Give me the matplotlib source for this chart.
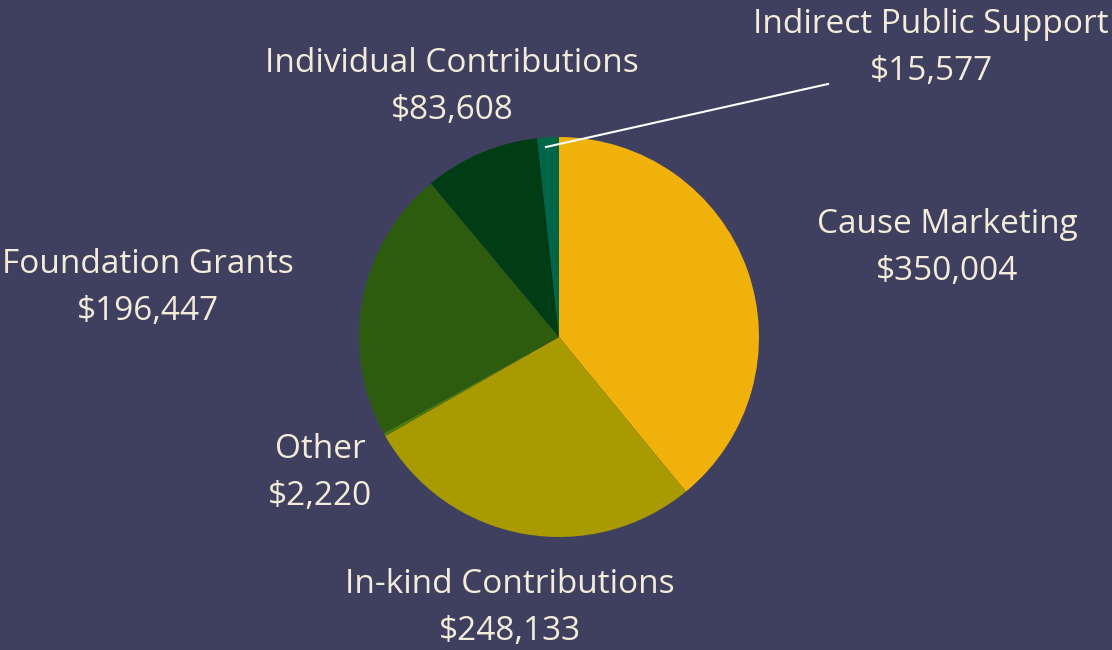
import matplotlib
matplotlib.use("Agg")
import matplotlib.pyplot as plt

categories = ["Cause Marketing", "In-kind Contributions", "Other",
              "Foundation Grants", "Individual Contributions", "Indirect Public Support"]
values = [350004, 248133, 2220, 196447, 83608, 15577]
colors = ["#F0B20A", "#A89A00", "#4A7D0A", "#2E5C0F", "#003D14", "#00664A"]

# label centres in pixel coords (x, y from top)
label_pos = [(947, 248), (510, 608), (320, 473), (148, 288), (452, 87), (931, 48)]

bg = "#3F4060"
txt = "#F4ECDA"

fig = plt.figure(figsize=(11.12, 6.5), dpi=100, facecolor=bg)
ax = fig.add_axes([0, 0, 1, 1])
ax.set_facecolor(bg)

cx, cy, r = 559, 650 - 337, 200
ax.pie(values, colors=colors, startangle=90, counterclock=False,
       center=(cx, cy), radius=r, wedgeprops=dict(linewidth=0),
       frame=True)
ax.set_xlim(0, 1112)
ax.set_ylim(0, 650)
ax.set_aspect("equal")
ax.axis("off")

for name, val, (x, y) in zip(categories, values, label_pos):
    ax.text(x, 650 - y, f"{name}\n${val:,}", ha="center", va="center",
            color=txt, fontsize=24, family="Open Sans", linespacing=1.57)

# leader line for the small slice
ax.plot([546, 828], [650 - 147, 650 - 84], color="white", lw=1.5)

fig.savefig("out.png", dpi=100, facecolor=bg)
